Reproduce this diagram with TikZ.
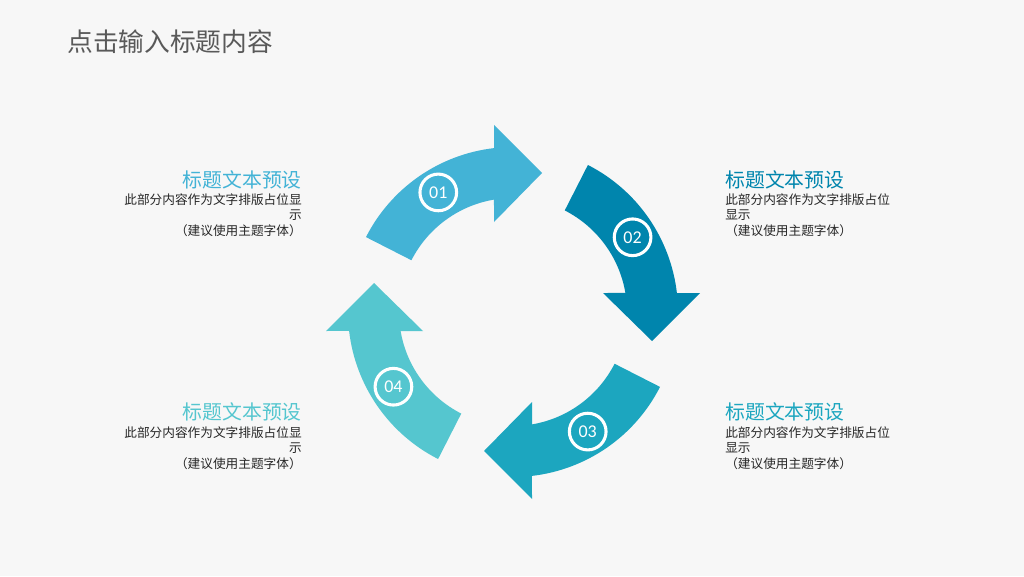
\documentclass[tikz,border=0pt]{standalone}
\usepackage{fontspec}
\newfontfamily\cjk{Noto Sans CJK SC}
\newfontfamily\numfont{Carlito}
\definecolor{bg}{HTML}{F7F7F7}
\definecolor{cA}{HTML}{43B3D6}
\definecolor{cB}{HTML}{0085AD}
\definecolor{cC}{HTML}{1CA6BF}
\definecolor{cD}{HTML}{55C6CF}
\definecolor{titlegray}{HTML}{595959}
\definecolor{bodytext}{HTML}{262626}
\newcommand\cyclearrow[2]{%
  \begin{scope}[shift={(513,264)},rotate=#1]
    \fill[#2] (153:165) arc[start angle=153,end angle=96.6,radius=165]
      -- (-19,187) -- (29,139) -- (-19,90) -- (99.6:114)
      arc[start angle=99.6,end angle=153,radius=114] -- cycle;
  \end{scope}}
\begin{document}
\begin{tikzpicture}[x=0.75pt,y=0.75pt,
  numcircle/.style={circle,draw=white,line width=2.3pt,minimum size=27.5pt,inner sep=0pt,
    text=white,font=\numfont\fontsize{13.5}{15}\selectfont},
  headl/.style={anchor=base east,inner sep=0pt,font=\cjk\fontsize{14.9}{17}\selectfont},
  headr/.style={anchor=base west,inner sep=0pt,font=\cjk\fontsize{14.9}{17}\selectfont},
  bodyl/.style={anchor=base east,inner sep=0pt,text=bodytext,font=\cjk\fontsize{9.5}{11}\selectfont},
  bodyr/.style={anchor=base west,inner sep=0pt,text=bodytext,font=\cjk\fontsize{9.5}{11}\selectfont}]
\fill[bg] (0,0) rectangle (1024,576);
\useasboundingbox (0,0) rectangle (1024,576);

\node[anchor=base west,inner sep=0pt,text=titlegray,font=\cjk\fontsize{19.3}{22}\selectfont] (title) at (67,524.3) {点击输入标题内容};

\cyclearrow{0}{cA}
\cyclearrow{-90}{cB}
\cyclearrow{-180}{cC}
\cyclearrow{-270}{cD}

\begin{scope}[shift={(513,264)}]
  \node[numcircle] (n1) at (122:141) {01};
  \node[numcircle] (n2) at (32:141) {02};
  \node[numcircle] (n3) at (-58:141) {03};
  \node[numcircle] (n4) at (212:141) {04};
\end{scope}

% top left
\node[headl,text=cA] (h1) at (302,388.5) {标题文本预设};
\node[bodyl] (b1a) at (302,371.2) {此部分内容作为文字排版占位显};
\node[bodyl] (b1b) at (302,356.2) {示};
\node[bodyl] (b1c) at (302,340.2) {（建议使用主题字体）};
% top right
\node[headr,text=cB] (h2) at (725,388.5) {标题文本预设};
\node[bodyr] (b2a) at (725,371.2) {此部分内容作为文字排版占位};
\node[bodyr] (b2b) at (725,356.2) {显示};
\node[bodyr] (b2c) at (725,340.2) {（建议使用主题字体）};
% bottom right
\node[headr,text=cC] (h3) at (725,156.5) {标题文本预设};
\node[bodyr] (b3a) at (725,138.2) {此部分内容作为文字排版占位};
\node[bodyr] (b3b) at (725,123.2) {显示};
\node[bodyr] (b3c) at (725,107.2) {（建议使用主题字体）};
% bottom left
\node[headl,text=cD] (h4) at (302,156.5) {标题文本预设};
\node[bodyl] (b4a) at (302,138.2) {此部分内容作为文字排版占位显};
\node[bodyl] (b4b) at (302,123.2) {示};
\node[bodyl] (b4c) at (302,107.2) {（建议使用主题字体）};
\end{tikzpicture}
\end{document}
